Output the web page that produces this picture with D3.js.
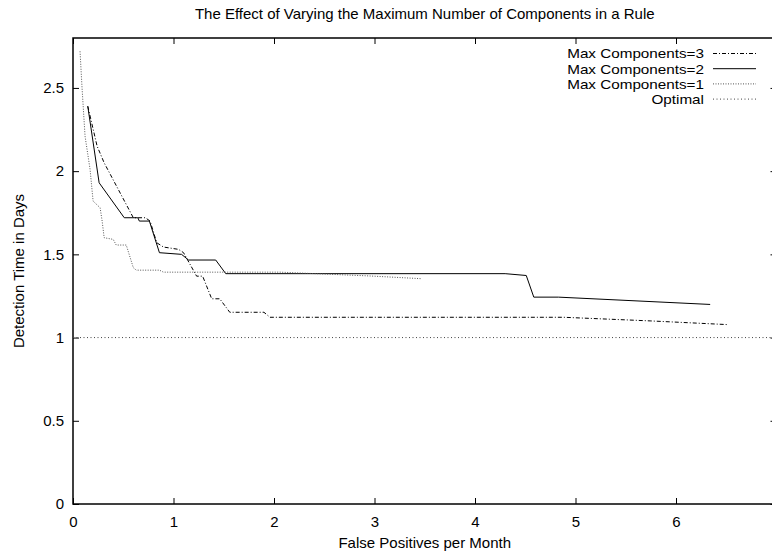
<!DOCTYPE html>
<html>
<head>
<meta charset="utf-8">
<script src="https://cdn.jsdelivr.net/npm/d3@7"></script>
<style>
  body { margin: 0; background: #fff; }
  svg { display: block; }
  text { font-family: "Liberation Sans", Arial, Helvetica, sans-serif; font-size: 15px; fill: #000; }
</style>
</head>
<body>
<div id="chart"></div>
<script>
// data
var maxComp3X = [0.147, 0.24, 0.31, 0.60, 0.72, 0.767, 0.833, 0.90, 1.05, 1.10, 1.23, 1.29, 1.38, 1.46, 1.56, 1.90, 1.96, 4.88, 5.75, 6.51];
var maxComp3Y = [2.39, 2.15, 2.05, 1.72, 1.72, 1.70, 1.57, 1.544, 1.53, 1.51, 1.369, 1.369, 1.233, 1.233, 1.152, 1.152, 1.122, 1.122, 1.10, 1.078];

var maxComp2X = [0.147, 0.26, 0.51, 0.645, 0.66, 0.76, 0.86, 1.08, 1.15, 1.42, 1.52, 4.30, 4.51, 4.585, 4.83, 6.34];
var maxComp2Y = [2.39, 1.93, 1.72, 1.72, 1.70, 1.70, 1.51, 1.50, 1.466, 1.466, 1.384, 1.384, 1.373, 1.243, 1.243, 1.199];

var maxComp1X = [0.07, 0.09, 0.12, 0.17, 0.20, 0.27, 0.29, 0.31, 0.40, 0.43, 0.53, 0.60, 0.63, 0.86, 0.90, 2.06, 2.96, 3.46];
var maxComp1Y = [2.72, 2.50, 2.21, 2.01, 1.82, 1.78, 1.70, 1.60, 1.59, 1.556, 1.556, 1.42, 1.405, 1.405, 1.393, 1.393, 1.37, 1.354];

var optimalX = [0, 7];
var optimalY = [1, 1];

var seriesNames = ["Max Components=3", "Max Components=2", "Max Components=1", "Optimal"];
var xTicks = [0, 1, 2, 3, 4, 5, 6, 7];
var xTickLabels = ["0", "1", "2", "3", "4", "5", "6", ""];  // 7 falls outside the picture
var yTicks = [0, 0.5, 1, 1.5, 2, 2.5];
var yTickLabels = ["0", "0.5", "1", "1.5", "2", "2.5"];

// set the dimensions and margins of the graph
var margin = {top: 38, right: -4.5, bottom: 49, left: 73},
    width = 772 - margin.left - margin.right,
    height = 553 - margin.top - margin.bottom;

var x = d3.scaleLinear().domain([0, 7]).range([0, width]);
var y = d3.scaleLinear().domain([0, 2.8]).range([height, 0]);

var svg = d3.select("#chart").append("svg")
  .attr("width", 772)
  .attr("height", 553);

var g = svg.append("g")
  .attr("transform", "translate(" + margin.left + "," + margin.top + ")");

// title
svg.append("text")
  .attr("x", margin.left + width / 2)
  .attr("y", 19)
  .attr("text-anchor", "middle")
  .text("The Effect of Varying the Maximum Number of Components in a Rule");

// axes, ticks pointing inward like gnuplot
g.append("g")
  .attr("transform", "translate(0," + height + ")")
  .call(d3.axisBottom(x).tickValues(xTicks)
    .tickFormat(function(d, i) { return xTickLabels[i]; })
    .tickSizeInner(-6).tickSizeOuter(0).tickPadding(12));

g.append("g")
  .call(d3.axisLeft(y).tickValues(yTicks)
    .tickFormat(function(d, i) { return yTickLabels[i]; })
    .tickSizeInner(-6).tickSizeOuter(0).tickPadding(9));

// mirrored ticks on top and right
g.append("g")
  .call(d3.axisTop(x).tickValues(xTicks).tickFormat("").tickSizeInner(-6).tickSizeOuter(0));

g.append("g")
  .attr("transform", "translate(" + width + ",0)")
  .call(d3.axisRight(y).tickValues(yTicks).tickFormat("").tickSizeInner(-6).tickSizeOuter(0));

g.selectAll(".domain").remove();
g.selectAll(".tick line").attr("stroke", "#000").attr("stroke-width", 1);
g.selectAll(".tick text").attr("font-size", 15).attr("font-family", null);

// frame
g.append("rect")
  .attr("x", 0)
  .attr("y", 0)
  .attr("width", width)
  .attr("height", height)
  .attr("fill", "none")
  .attr("stroke", "#000")
  .attr("stroke-width", 1.5);

// axis labels
svg.append("text")
  .attr("x", margin.left + width / 2)
  .attr("y", 548)
  .attr("text-anchor", "middle")
  .text("False Positives per Month");

svg.append("text")
  .attr("transform", "translate(23.5," + (margin.top + height / 2) + ")rotate(-90)")
  .attr("text-anchor", "middle")
  .text("Detection Time in Days");

// line styles
var styles = [
  {dash: "4,2,1,2", color: "#000", width: 1},
  {dash: null, color: "#000", width: 1},
  {dash: "1,1.5", color: "#555", width: 1},
  {dash: "1,2.5", color: "#444", width: 1}
];

var series = [
  d3.zip(maxComp3X, maxComp3Y),
  d3.zip(maxComp2X, maxComp2Y),
  d3.zip(maxComp1X, maxComp1Y),
  d3.zip(optimalX, optimalY)
];

var line = d3.line()
  .x(function(d) { return x(d[0]); })
  .y(function(d) { return y(d[1]); });

g.selectAll(".series")
  .data(series)
  .enter()
  .append("path")
  .attr("class", "series")
  .attr("d", line)
  .attr("fill", "none")
  .attr("stroke", function(d, i) { return styles[i].color; })
  .attr("stroke-width", function(d, i) { return styles[i].width; })
  .attr("stroke-dasharray", function(d, i) { return styles[i].dash; });

// legend - key text is a little wide and short in the original
var legend = svg.selectAll(".legend")
  .data(seriesNames)
  .enter()
  .append("g")
  .attr("class", "legend")
  .attr("transform", function(d, i) { return "translate(0," + (53.5 + i * 15.2) + ")"; });

legend.append("text")
  .attr("transform", "translate(704,4.8)scale(1.13,1)")
  .attr("text-anchor", "end")
  .style("font-size", "13.5px")
  .text(function(d) { return d; });

legend.append("line")
  .attr("x1", 713)
  .attr("x2", 756)
  .attr("y1", 0)
  .attr("y2", 0)
  .attr("stroke", function(d, i) { return styles[i].color; })
  .attr("stroke-width", function(d, i) { return styles[i].width; })
  .attr("stroke-dasharray", function(d, i) { return styles[i].dash; });
</script>
</body>
</html>
